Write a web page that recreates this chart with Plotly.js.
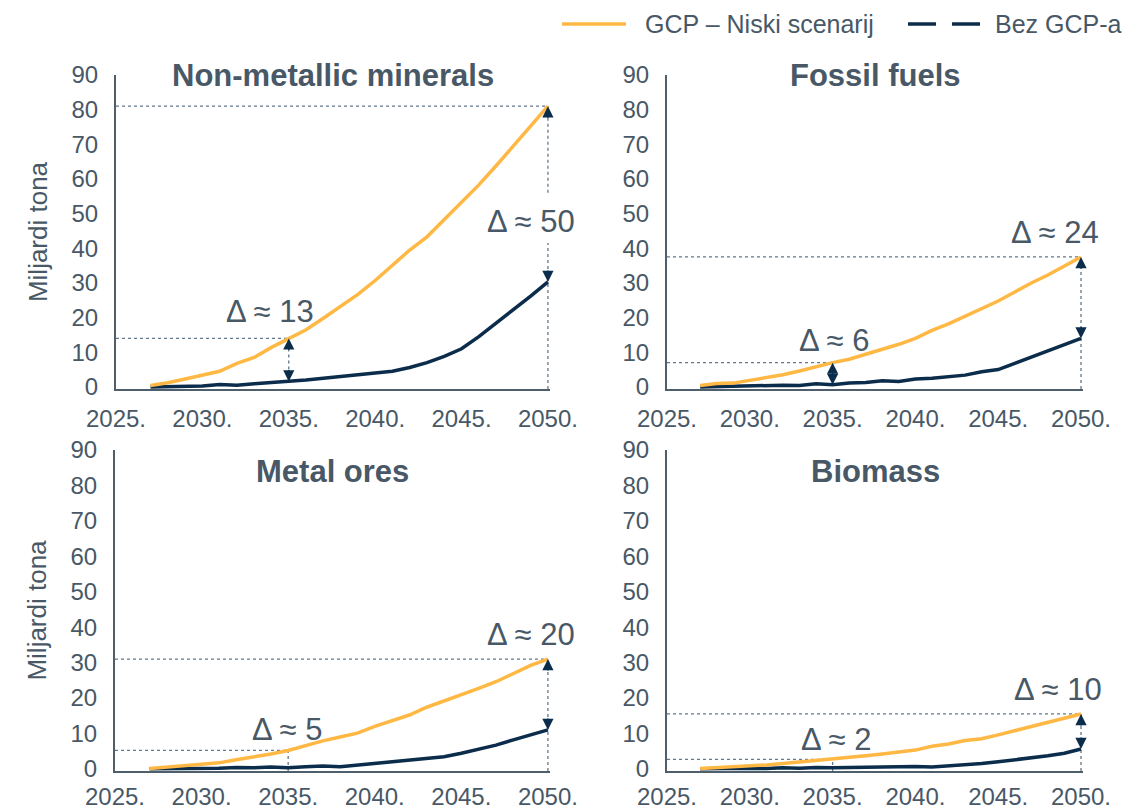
<!DOCTYPE html>
<html><head><meta charset="utf-8">
<script src="https://cdn.plot.ly/plotly-3.0.1.min.js"></script>
<style>html,body{margin:0;padding:0;background:#fff;}#chart{width:1137px;height:809px;}</style>
</head><body><div id="chart"></div>
<script>
// ---------- DATA ----------
const years = [2027,2028,2029,2030,2031,2032,2033,2034,2035,2036,2037,2038,2039,2040,2041,2042,2043,2044,2045,2046,2047,2048,2049,2050];
const seriesNames = ['GCP – Niski scenarij', 'Bez GCP-a'];
const panelTitles = ['Non-metallic minerals', 'Fossil fuels', 'Metal ores', 'Biomass'];
const yAxisTitle = 'Miljardi tona';

const gcpNonMetallic = [0.4,1.2,2.3,3.4,4.5,6.8,8.5,11.4,14.0,16.5,19.8,23.2,26.7,30.7,35.0,39.5,43.3,48.2,53.2,58.3,63.8,69.5,75.2,81.0];
const bezNonMetallic = [0,0.1,0.2,0.3,0.7,0.5,0.9,1.2,1.6,2.0,2.5,3.0,3.4,3.9,4.5,5.6,7.0,8.8,11.0,14.5,18.3,22.2,26.2,30.3];

const gcpFossil = [0.4,1.0,1.1,1.9,2.9,3.5,4.6,5.9,7.0,8.0,9.4,10.8,12.3,14.0,16.3,18.2,20.4,22.4,24.8,27.4,30.0,32.3,35.0,37.5];
const bezFossil = [0,0.1,0.2,0.4,0.3,0.5,0.4,0.9,0.6,1.1,1.3,1.8,1.6,2.3,2.5,2.9,3.4,4.4,5.0,6.8,8.6,10.4,12.2,14.0];

const gcpMetal = [0.1,0.5,1.0,1.2,1.7,2.6,3.3,4.2,5.2,6.6,7.9,9.0,10.1,12.0,13.6,15.2,17.4,19.1,20.8,22.7,24.6,26.9,29.2,31.0];
const bezMetal = [0,0,0.1,0.1,0.2,0.4,0.3,0.5,0.3,0.6,0.8,0.6,1.1,1.5,1.9,2.4,2.9,3.4,4.4,5.6,6.7,8.2,9.5,11.0];

const gcpBiomass = [0.1,0.3,0.5,0.9,1.1,1.5,1.9,2.3,2.7,3.2,3.7,4.2,4.7,5.3,6.4,7.0,8.0,8.5,9.6,10.8,11.9,13.1,14.3,15.5];
const bezBiomass = [0,0.1,0,0.2,0.1,0.3,0.2,0.4,0.3,0.4,0.3,0.5,0.5,0.7,0.5,0.8,1.0,1.5,2.0,2.5,3.1,3.7,4.4,5.6];

const deltaLabels = [['Δ ≈ 13','Δ ≈ 50'], ['Δ ≈ 6','Δ ≈ 24'], ['Δ ≈ 5','Δ ≈ 20'], ['Δ ≈ 2','Δ ≈ 10']];
const markYears = [2035, 2050];

const xTickVals = [2025,2030,2035,2040,2045,2050];
const xTickText = ['2025.','2030.','2035.','2040.','2045.','2050.'];
const yTickVals = [0,10,20,30,40,50,60,70,80,90];

// ---------- STYLE / LAYOUT CONFIG ----------
const W = 1137, H = 809;
const ORANGE = '#FFB843', NAVY = '#0B2D4B', TEXT = '#485866', AXIS = '#4E5E6B', DOT = '#62778A';
const FONT = 'Liberation Sans, Arial, sans-serif';
const px = v => v / W, py = v => 1 - v / H;

const panels = [
  {gcp: gcpNonMetallic, bez: bezNonMetallic, xd: [px(116), px(550)], yd: [py(389), py(75)], titleY: py(76), xStand: 7,
   labelPos: [[2033.9, 21.8], [2049.0, 47.7]], arrowsFirst: true, gapLast: [41.5, 56], yTitle: true},
  {gcp: gcpFossil, bez: bezFossil, xd: [px(667), px(1083)], yd: [py(389), py(75)], titleY: py(76), xStand: 7,
   labelPos: [[2035.1, 13.3], [2048.4, 44.6]], arrowsFirst: true, gapLast: null, yTitle: false},
  {gcp: gcpMetal, bez: bezMetal, xd: [px(115), px(550)], yd: [py(771), py(450)], titleY: py(471), xStand: 3,
   labelPos: [[2034.95, 11.2], [2049.0, 37.8]], arrowsFirst: false, gapLast: null, yTitle: true},
  {gcp: gcpBiomass, bez: bezBiomass, xd: [px(667), px(1083)], yd: [py(771), py(450)], titleY: py(471), xStand: 3,
   labelPos: [[2035.2, 8.3], [2048.6, 22.5]], arrowsFirst: false, gapLast: null, yTitle: false}
];

const valAt = (arr, yr) => arr[years.indexOf(yr)];
const traces = [], shapes = [], annotations = [];
const layout = {
  width: W, height: H, margin: {l: 0, r: 0, t: 0, b: 0},
  paper_bgcolor: '#fff', plot_bgcolor: '#fff', showlegend: false,
  font: {family: FONT, color: TEXT}
};

const dotLine = {color: DOT, width: 1.3, dash: 'dot'};

panels.forEach((p, i) => {
  const n = i === 0 ? '' : String(i + 1);
  const xa = 'x' + n, ya = 'y' + n;
  layout['xaxis' + n] = {
    domain: p.xd, anchor: ya, range: [2025, 2050.12], tickvals: xTickVals, ticktext: xTickText,
    showline: true, linecolor: AXIS, linewidth: 2, showgrid: false, zeroline: false, ticks: '',
    tickfont: {size: 24, color: TEXT, family: FONT}, ticklabelstandoff: p.xStand, fixedrange: true
  };
  layout['yaxis' + n] = {
    domain: p.yd, anchor: xa, range: [-0.6, 90], tickvals: yTickVals,
    showline: true, linecolor: AXIS, linewidth: 2, showgrid: false, zeroline: false, ticks: '',
    tickfont: {size: 24, color: TEXT, family: FONT}, ticklabelstandoff: 11, fixedrange: true,
    title: p.yTitle ? {text: yAxisTitle, font: {size: 26, color: TEXT, family: FONT}, standoff: 16} : undefined
  };
  traces.push({x: years, y: p.bez, xaxis: xa, yaxis: ya, mode: 'lines', name: seriesNames[1],
               line: {color: NAVY, width: 3.5}, hoverinfo: 'skip'});
  traces.push({x: years, y: p.gcp, xaxis: xa, yaxis: ya, mode: 'lines', name: seriesNames[0],
               line: {color: ORANGE, width: 3.5}, hoverinfo: 'skip'});

  // panel title
  annotations.push({xref: 'paper', yref: 'paper', x: (p.xd[0] + p.xd[1]) / 2, y: p.titleY,
    xanchor: 'center', yanchor: 'middle', showarrow: false, text: '<b>' + panelTitles[i] + '</b>',
    font: {size: 31, color: TEXT, family: FONT}});

  markYears.forEach((yr, k) => {
    const g = valAt(p.gcp, yr), b = valAt(p.bez, yr);
    shapes.push({type: 'line', xref: xa, yref: ya, x0: 2025, x1: yr, y0: g, y1: g, line: dotLine, layer: 'below'});
    const withArrows = (k === 1) || p.arrowsFirst;
    if (k === 0 && p.arrowsFirst) {
      shapes.push({type: 'line', xref: xa, yref: ya, x0: yr, x1: yr, y0: b, y1: g, line: dotLine, layer: 'below'});
    } else if (k === 1 && p.gapLast) {
      shapes.push({type: 'line', xref: xa, yref: ya, x0: yr, x1: yr, y0: p.gapLast[1], y1: g, line: dotLine, layer: 'below'});
      shapes.push({type: 'line', xref: xa, yref: ya, x0: yr, x1: yr, y0: -0.6, y1: p.gapLast[0], line: dotLine, layer: 'below'});
    } else {
      shapes.push({type: 'line', xref: xa, yref: ya, x0: yr, x1: yr, y0: -0.6, y1: g, line: dotLine, layer: 'below'});
    }
    if (withArrows) {
      annotations.push({xref: xa, yref: ya, x: yr, y: g, ax: 0, ay: 13, text: '', showarrow: true,
        arrowhead: 2, arrowsize: 1.6, arrowwidth: 1.4, arrowcolor: NAVY, standoff: 0});
      annotations.push({xref: xa, yref: ya, x: yr, y: b, ax: 0, ay: -13, text: '', showarrow: true,
        arrowhead: 2, arrowsize: 1.6, arrowwidth: 1.4, arrowcolor: NAVY, standoff: 0});
    }
    annotations.push({xref: xa, yref: ya, x: p.labelPos[k][0], y: p.labelPos[k][1], text: deltaLabels[i][k],
      showarrow: false, xanchor: 'center', yanchor: 'middle', font: {size: 31, color: TEXT, family: FONT}});
  });
});

// custom legend (long line samples as in the original)
shapes.push({type: 'line', xref: 'paper', yref: 'paper', x0: px(562), x1: px(626), y0: py(24), y1: py(24),
  line: {color: ORANGE, width: 3.5}});
shapes.push({type: 'line', xref: 'paper', yref: 'paper', x0: px(908), x1: px(981), y0: py(24), y1: py(24),
  line: {color: NAVY, width: 3.5, dash: '28px,16px'}});
annotations.push({xref: 'paper', yref: 'paper', x: px(643), y: py(24), xanchor: 'left', yanchor: 'middle',
  showarrow: false, text: seriesNames[0], font: {size: 25, color: TEXT, family: FONT}});
annotations.push({xref: 'paper', yref: 'paper', x: px(993), y: py(24), xanchor: 'left', yanchor: 'middle',
  showarrow: false, text: seriesNames[1], font: {size: 25, color: TEXT, family: FONT}});

layout.shapes = shapes;
layout.annotations = annotations;
Plotly.newPlot('chart', traces, layout, {staticPlot: true, displayModeBar: false});
</script></body></html>
